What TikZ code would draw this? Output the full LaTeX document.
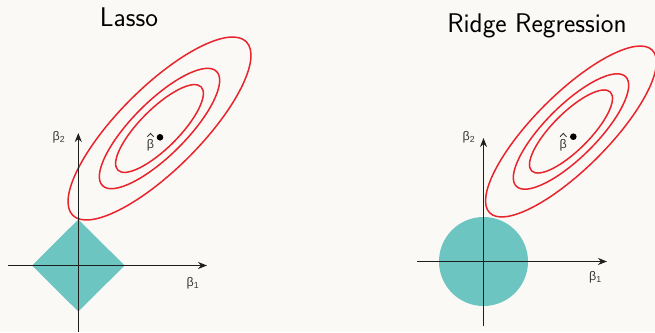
\documentclass[tikz,border=0pt]{standalone}
\usepackage{fontspec}
\newfontfamily\grk{Liberation Sans}
\usetikzlibrary{arrows.meta}
\definecolor{bg}{RGB}{250,249,246}
\definecolor{ellred}{RGB}{232,36,44}
\definecolor{teal}{RGB}{108,197,193}
\definecolor{axisc}{RGB}{30,30,30}
\definecolor{labc}{RGB}{55,55,55}
\tikzset{
  ell/.style={draw=ellred, line width=1.5pt},
  axisline/.style={draw=axisc, line width=1.5pt, -{Stealth[length=9pt,width=7pt]}},
  region/.style={fill=teal, draw=none},
  glab/.style={text=labc, font=\grk\fontsize{12.5}{14}\selectfont, inner sep=0pt},
  hatmark/.style={draw=labc, line width=0.9pt},
  title/.style={font=\sffamily\fontsize{27}{32}\selectfont, anchor=base, inner sep=0pt},
  dotstyle/.style={fill=black}
}
\begin{document}
\begin{tikzpicture}[x=1pt,y=-1pt]
\fill[bg] (0,0) rectangle (655,332);
\useasboundingbox (0,0) rectangle (655,332);
% ---------- Left: Lasso ----------
\node[title] (t1) at (129,26) {Lasso};
\coordinate (o1) at (78.3,265.5);
\fill[region] (32,265.5) -- (78.3,219.5) -- (124.6,265.5) -- (78.3,311.5) -- cycle;
\coordinate (c1) at (159.5,128.5);
\draw[ell] (c1) circle[x radius=122.7pt, y radius=40.9pt, rotate=45];
\draw[ell] (c1) circle[x radius=80.7pt, y radius=26.9pt, rotate=45];
\draw[ell] (c1) circle[x radius=58.9pt, y radius=19.6pt, rotate=45];
\coordinate (x1s) at (8,265.5);
\coordinate (x1e) at (207,265.5);
\coordinate (y1s) at (78.3,332);
\coordinate (y1e) at (78.3,133);
\draw[axisline] (x1s) -- (x1e);
\draw[axisline] (y1s) -- (y1e);
\node[glab] (b1l) at (193,283) {β\textsubscript{1}};
\node[glab] (b2l) at (59,137) {β\textsubscript{2}};
\fill[dotstyle] (160,137.3) circle[radius=3.3pt];
\node[glab] (bh1) at (150.5,145) {β};
\draw[hatmark] ([xshift=-3.2pt,yshift=2.2pt]bh1.north) -- ([yshift=5.6pt]bh1.north) -- ([xshift=3.2pt,yshift=2.2pt]bh1.north);
% ---------- Right: Ridge ----------
\node[title] (t2) at (537,32.3) {Ridge Regression};
\coordinate (o2) at (483.5,261.5);
\fill[region] (o2) circle[radius=44.5pt];
\coordinate (c2) at (571,131.5);
\draw[ell] (c2) circle[x radius=115pt, y radius=37.1pt, rotate=45];
\draw[ell] (c2) circle[x radius=77.4pt, y radius=25.8pt, rotate=45];
\draw[ell] (c2) circle[x radius=55.7pt, y radius=18.6pt, rotate=45];
\coordinate (x2s) at (417,261.5);
\coordinate (x2e) at (607,261.5);
\coordinate (y2s) at (483.5,326);
\coordinate (y2e) at (483.5,138);
\draw[axisline] (x2s) -- (x2e);
\draw[axisline] (y2s) -- (y2e);
\node[glab] (b1r) at (595.5,277) {β\textsubscript{1}};
\node[glab] (b2r) at (469,137) {β\textsubscript{2}};
\fill[dotstyle] (573.3,136.7) circle[radius=3.3pt];
\node[glab] (bh2) at (563.3,145) {β};
\draw[hatmark] ([xshift=-3.2pt,yshift=2.2pt]bh2.north) -- ([yshift=5.6pt]bh2.north) -- ([xshift=3.2pt,yshift=2.2pt]bh2.north);
\end{tikzpicture}
\end{document}
